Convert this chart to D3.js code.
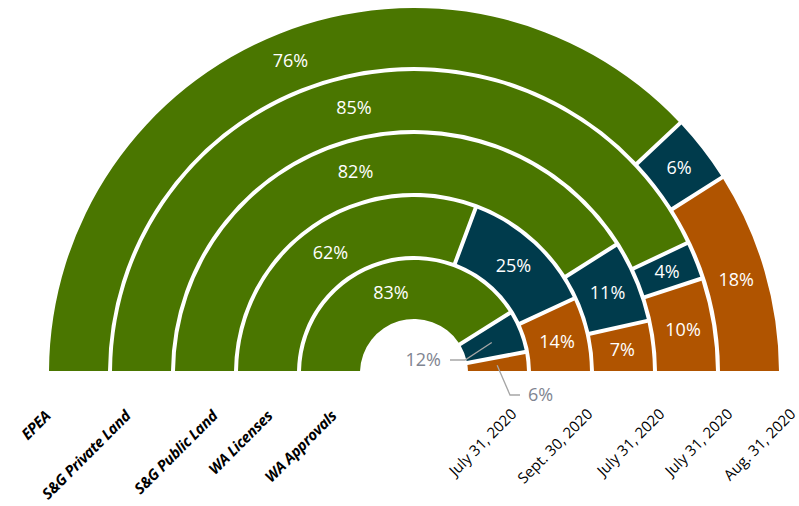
<!DOCTYPE html>
<html>
<head>
<meta charset="utf-8">
<script src="https://cdn.jsdelivr.net/npm/d3@7"></script>
<style>
  body { margin: 0; background: #fff; }
  svg { display: block; font-family: "Open Sans", sans-serif; }
</style>
</head>
<body>
<svg width="799" height="506"></svg>
<script>
// Données (anneau extérieur -> intérieur)
const categories = ["EPEA", "S&G Private Land", "S&G Public Land", "WA Licenses", "WA Approvals"];
const dates = ["Aug. 31, 2020", "July 31, 2020", "July 31, 2020", "Sept. 30, 2020", "July 31, 2020"];
const vertes = [76, 85, 82, 62, 83];
const bleues = [6, 4, 11, 25, 12];
const oranges = [18, 10, 7, 14, 6];

const couleurs = ["#4a7600", "#003b4c", "#b05400"];

// décalages des étiquettes (ajustement visuel)
const decalCat = [-27, -10, 14, 6, 7];
const decalDate = [47, 47, 42, 33, 20];

const svg = d3.select("svg");
const cx = 414, cy = 373;
const g = svg.append("g").attr("transform", `translate(${cx},${cy})`);

// Echelle radiale : un anneau par catégorie
const rScale = d3.scaleBand()
    .domain(categories)
    .range([365, 54])
    .paddingInner(0.0635)
    .paddingOuter(0);

const pie = d3.pie()
    .sort(null)
    .value(d => d.v)
    .startAngle(-Math.PI / 2)
    .endAngle(Math.PI / 2);

categories.forEach((cat, i) => {
    const valeurs = [vertes[i], bleues[i], oranges[i]].map((v, k) => ({ v: v, k: k }));
    const r0 = rScale(cat);
    const r1 = r0 + rScale.bandwidth();

    const arc = d3.arc()
        .innerRadius(r0)
        .outerRadius(r1)
        .padAngle(0.04)
        .padRadius(100);

    const parts = pie(valeurs);

    g.selectAll(null)
        .data(parts)
        .enter()
        .append("path")
        .attr("d", arc)
        .attr("fill", d => couleurs[d.data.k]);

    // Etiquettes internes
    parts.forEach(p => {
        const c = arc.centroid(p);
        const dernier = i === categories.length - 1 && p.data.k > 0;
        if (!dernier) {
            g.append("text")
                .attr("x", c[0])
                .attr("y", c[1])
                .attr("dy", "0.35em")
                .attr("text-anchor", "middle")
                .attr("fill", "#fff")
                .style("font-size", "18px")
                .text(p.data.v + "%");
        } else {
            // étiquettes extérieures avec ligne de rappel
            const coude = p.data.k === 1 ? [[51, -13], [36, -13]] : [[96, 22], [106, 22]];
            g.append("polyline")
                .attr("points", [c, coude[0], coude[1]].map(q => q.join(",")).join(" "))
                .attr("fill", "none")
                .attr("stroke", "#a6a6a6")
                .attr("stroke-width", 1.3);
            g.append("text")
                .attr("x", coude[1][0] + (p.data.k === 1 ? -9 : 8))
                .attr("y", coude[1][1])
                .attr("dy", "0.35em")
                .attr("text-anchor", p.data.k === 1 ? "end" : "start")
                .attr("fill", "#7f8591")
                .style("font-size", "18px")
                .text(p.data.v + "%");
        }
    });

    const rMid = r0 + rScale.bandwidth() / 2;

    // Nom de la catégorie à gauche
    svg.append("text")
        .attr("transform", `translate(${cx - rMid + decalCat[i]},${cy + 44}) rotate(-45)`)
        .attr("text-anchor", "end")
        .style("font-size", "15px")
        .style("letter-spacing", "-0.3px")
        .style("font-weight", "bold")
        .style("font-style", "italic")
        .attr("fill", "#000")
        .text(cat);

    // Date à droite
    svg.append("text")
        .attr("transform", `translate(${cx + rMid + decalDate[i]},${cy + 42}) rotate(-45)`)
        .attr("text-anchor", "end")
        .style("font-size", "15px")
        .attr("fill", "#000")
        .text(dates[i]);
});
</script>
</body>
</html>
